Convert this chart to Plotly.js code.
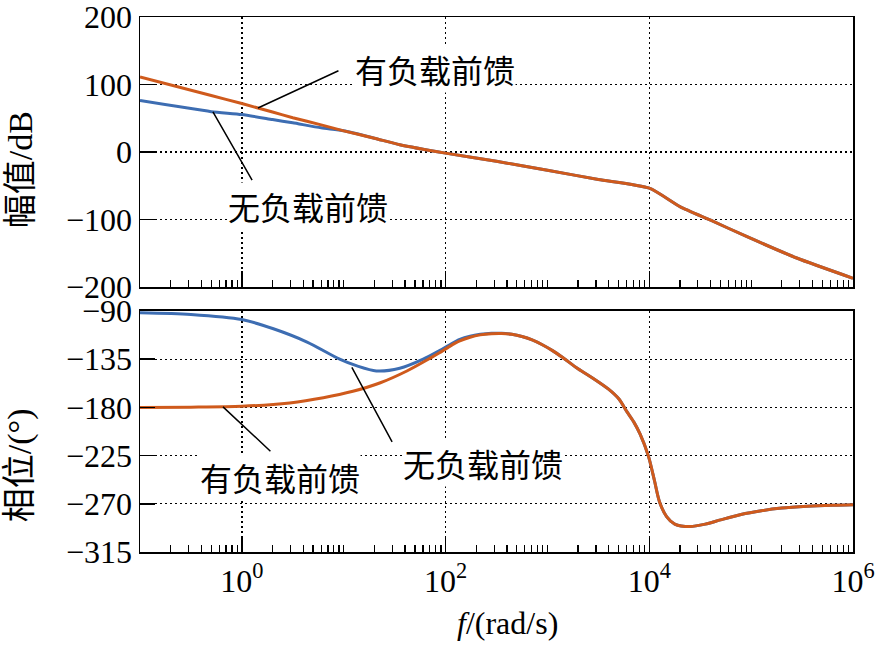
<!DOCTYPE html>
<html>
<head>
<meta charset="utf-8">
<script src="https://cdn.plot.ly/plotly-3.0.1.min.js"></script>
<style>html,body{margin:0;padding:0;background:#fff;}</style>
</head>
<body>
<div id="chart" style="width:878px;height:645px;"></div>
<script>
// ---- data ----
const magFreq = [0.1, 0.5, 1, 2, 3.16, 6, 10, 20, 35.5, 100, 316, 1000, 3162, 10000, 20000, 40000, 90000, 280000, 1000000];
const magLoaded = [111.5, 83.9, 72, 59.4, 51, 40.4, 31.5, 20.6, 11, -1.5, -13.6, -27, -40.5, -53.5, -80.8, -101, -125, -157, -187];
const magNoLoad = [76.4, 60, 55.7, 48.3, 43.4, 36, 31.6, 20.6, 11, -1.5, -13.6, -27, -40.5, -53.5, -80.8, -101, -125, -157, -187];

const phFreqLoaded = [0.1, 0.316, 1, 2.95, 6.31, 12.3, 22.9, 41.7, 70.8, 87.1, 110, 138, 174, 219, 282, 355, 447, 562, 708, 891, 1122, 1413, 1995, 2818, 3981, 5012, 6026, 7079, 8128, 9772, 11220, 12589, 14791, 17783, 25119, 35481, 50119, 79433, 125893, 199526, 354813, 630957, 1000000];
const phLoaded = [-180, -179.8, -179, -175.8, -171, -165, -157, -146, -134, -129, -123, -118, -114.5, -112.3, -111.2, -111, -111.8, -113.8, -117, -121.5, -127, -133.5, -144, -153, -163, -172, -184, -194, -205, -225, -248, -268, -282, -289, -291.3, -289, -285, -280, -276.5, -274, -272.3, -271.3, -270.8];

const phFreqNoLoad = [0.1, 0.316, 1, 2.04, 4.37, 9.12, 13.5, 20.9, 35.5, 60.3, 87.1, 110, 138, 174, 219, 282, 355, 447, 562, 708, 891, 1122, 1413, 1995, 2818, 3981, 5012, 6026, 7079, 8128, 9772, 11220, 12589, 14791, 17783, 25119, 35481, 50119, 79433, 125893, 199526, 354813, 630957, 1000000];
const phNoLoad = [-91.7, -93.3, -98, -106.6, -119, -135, -141.3, -146, -143.5, -135, -127, -121.5, -116.5, -113.5, -111.8, -110.8, -110.8, -111.8, -113.8, -117, -121.5, -127, -133.5, -144, -153, -163, -172, -184, -194, -205, -225, -248, -268, -282, -289, -291.3, -289, -285, -280, -276.5, -274, -272.3, -271.3, -270.8];

const xTickVals = [1, 100, 10000, 1000000];
const xTickText = ['10<sup>0</sup>', '10<sup>2</sup>', '10<sup>4</sup>', '10<sup>6</sup>'];
const magTickVals = [-200, -100, 0, 100, 200];
const magTickText = ['\u2212200', '\u2212100', '0', '100', '200'];
const phTickVals = [-315, -270, -225, -180, -135, -90];
const phTickText = ['\u2212315', '\u2212270', '\u2212225', '\u2212180', '\u2212135', '\u221290'];
const labelLoaded = '有负载前馈';
const labelNoLoad = '无负载前馈';
const magTitle = '幅值/dB';
const phTitle = '相位/(°)';
const xTitle = '<i>f</i>/(rad/s)';

// ---- styles ----
const BLUE = '#3d6db2';
const ORANGE = '#cf5a1c';
const FONT = "Liberation Serif, Noto Sans CJK SC, serif";
const CJK = "Noto Sans CJK SC, Liberation Serif, serif";

// minor tick positions (2..10 within each decade)
const minorVals = [];
for (let e = -1; e < 6; e++) {
  for (let m = 2; m <= 10; m++) {
    if (m === 10 && (e + 1) % 2 === 0) continue;
    minorVals.push(m * Math.pow(10, e));
  }
}

function xAxis(anchor, showLabels) {
  return {
    type: 'log', range: [-1, 6], anchor: anchor,
    tickmode: 'array', tickvals: xTickVals, ticktext: xTickText,
    showticklabels: showLabels,
    ticks: 'inside', ticklen: 16, tickwidth: 1.5, tickcolor: '#000',
    minor: {tickmode: 'array', tickvals: minorVals, ticks: 'inside', ticklen: 7, tickwidth: 1.2, tickcolor: '#000', showgrid: false},
    showgrid: true, gridcolor: '#000', gridwidth: 1.3, griddash: '2px,3px',
    showline: true, mirror: true, linecolor: '#000', linewidth: 1.5,
    zeroline: false,
    tickfont: {family: FONT, size: 32, color: '#000'}
  };
}
function yAxis(anchor, domain, range, vals, text) {
  return {
    domain: domain, range: range, anchor: anchor,
    tickmode: 'array', tickvals: vals, ticktext: text,
    ticks: 'inside', ticklen: 15, tickwidth: 1.5, tickcolor: '#000',
    showgrid: true, gridcolor: '#000', gridwidth: 1.3, griddash: '2px,3px',
    showline: true, mirror: true, linecolor: '#000', linewidth: 1.5,
    zeroline: false, ticklabeloverflow: 'allow',
    tickfont: {family: FONT, size: 32, color: '#000'}
  };
}

const traces = [
  {x: magFreq, y: magNoLoad, xaxis: 'x', yaxis: 'y', mode: 'lines', line: {color: BLUE, width: 3, shape: 'spline', smoothing: 0.6}, name: labelNoLoad},
  {x: magFreq, y: magLoaded, xaxis: 'x', yaxis: 'y', mode: 'lines', line: {color: ORANGE, width: 3, shape: 'spline', smoothing: 0.6}, name: labelLoaded},
  {x: phFreqNoLoad, y: phNoLoad, xaxis: 'x2', yaxis: 'y2', mode: 'lines', line: {color: BLUE, width: 3, shape: 'spline', smoothing: 0.8}, name: labelNoLoad},
  {x: phFreqLoaded, y: phLoaded, xaxis: 'x2', yaxis: 'y2', mode: 'lines', line: {color: ORANGE, width: 3, shape: 'spline', smoothing: 0.8}, name: labelLoaded}
];

function leader(xr, yr, x, y, ax, ay) {
  return {xref: xr, yref: yr, axref: xr, ayref: yr, x: x, y: y, ax: ax, ay: ay,
    text: '', showarrow: true, arrowhead: 0, arrowwidth: 1.5, arrowcolor: '#000', standoff: 0, startstandoff: 0};
}
function label(xr, yr, x, y, txt) {
  return {xref: xr, yref: yr, x: x, y: y, xanchor: 'center', yanchor: 'middle', text: txt, showarrow: false,
    font: {family: CJK, size: 32, color: '#000'}, bgcolor: '#fff', borderpad: 0};
}

const annotations = [
  leader('x', 'y', 0.158, 65.4, 0.963, 121.6),
  leader('x', 'y', -0.284, 59.5, 0.109, -43.9),
  leader('x2', 'y2', -0.185, -179.5, 0.295, -222.2),
  leader('x2', 'y2', 1.08, -142.6, 1.483, -213.6),
  label('x', 'y', 1.895, 123, labelLoaded),
  label('x', 'y', 0.649, -79.3, labelNoLoad),
  label('x2', 'y2', 0.374, -244.9, labelLoaded),
  label('x2', 'y2', 2.366, -231.6, labelNoLoad),
  {xref: 'paper', yref: 'paper', x: -0.168, y: 0.714, xanchor: 'center', yanchor: 'middle', text: magTitle, textangle: -90, showarrow: false,
    font: {family: FONT, size: 34, color: '#000'}},
  {xref: 'paper', yref: 'paper', x: -0.168, y: 0.1626, xanchor: 'center', yanchor: 'middle', text: phTitle, textangle: -90, showarrow: false,
    font: {family: FONT, size: 34, color: '#000'}},
  {xref: 'paper', yref: 'paper', x: 0.516, y: -0.1327, xanchor: 'center', yanchor: 'middle', text: xTitle, showarrow: false,
    font: {family: FONT, size: 32, color: '#000'}}
];

const layout = {
  width: 878, height: 645,
  margin: {l: 140, r: 25, t: 17, b: 93},
  paper_bgcolor: '#fff', plot_bgcolor: '#fff',
  showlegend: false,
  font: {family: FONT, size: 32, color: '#000'},
  xaxis: xAxis('y', false),
  yaxis: yAxis('x', [0.4953, 1], [-200, 200.3], magTickVals, magTickText),
  xaxis2: xAxis('y2', true),
  yaxis2: yAxis('x2', [0, 0.4505], [-315, -90], phTickVals, phTickText),
  annotations: annotations
};

Plotly.newPlot('chart', traces, layout, {staticPlot: true, displayModeBar: false});
</script>
</body>
</html>
